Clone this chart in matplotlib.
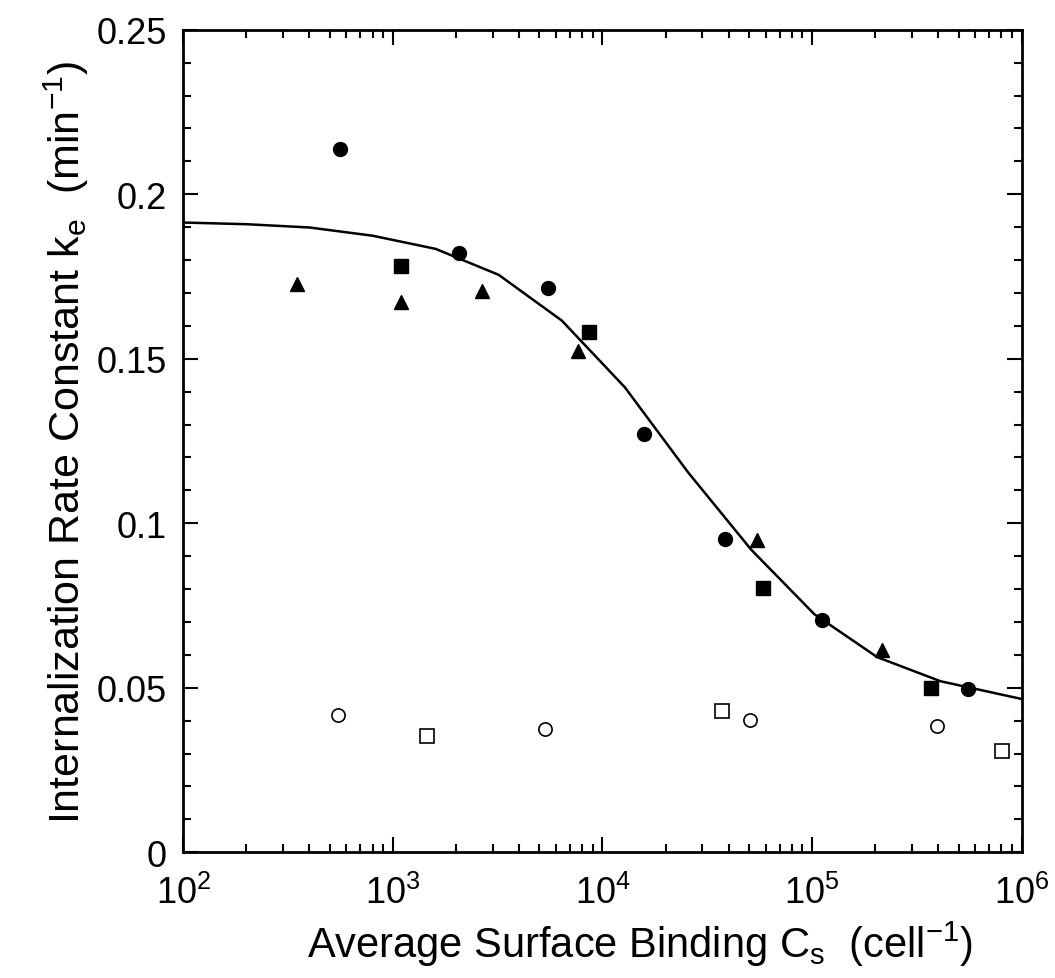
import matplotlib
matplotlib.use("Agg")
import matplotlib.pyplot as plt
from matplotlib.ticker import LogLocator, MultipleLocator, FixedLocator, NullFormatter
import numpy as np

plt.rcParams['font.family'] = ['Liberation Sans', 'DejaVu Sans']
plt.rcParams['mathtext.fontset'] = 'custom'
plt.rcParams['mathtext.rm'] = 'Liberation Sans'
plt.rcParams['mathtext.it'] = 'Liberation Sans'
plt.rcParams['mathtext.default'] = 'regular'

# Filled circles
fc_x = [559, 2067, 5477, 15780, 38410, 111100, 552600]
fc_y = [0.2138, 0.1821, 0.1715, 0.1271, 0.0952, 0.0707, 0.0496]
# Filled squares
fs_x = [1093, 8620, 58480, 369000]
fs_y = [0.1781, 0.1582, 0.0802, 0.0498]
# Filled triangles
ft_x = [348, 1093, 2653, 7614, 54750, 214800]
ft_y = [0.1728, 0.1672, 0.1707, 0.1523, 0.0949, 0.0616]
# Open circles
oc_x = [549, 5318, 50540, 393000]
oc_y = [0.0418, 0.0374, 0.0402, 0.0385]
# Open squares
os_x = [1450, 37040, 803000]
os_y = [0.0354, 0.0430, 0.0309]
# Fitted curve
fit_x = [100, 200, 400, 800, 1600, 3200, 6400, 12800, 25600, 51200, 102400, 204800, 409600, 819200, 1000000]
fit_y = [0.1914, 0.1909, 0.1899, 0.1874, 0.1834, 0.1755, 0.1616, 0.1413, 0.1155, 0.0920, 0.0724, 0.0593, 0.0520, 0.0478, 0.0466]

fig = plt.figure(figsize=(10.55, 9.79), dpi=100)
ax = fig.add_axes([0.1737, 0.1284, 0.9684 - 0.1737, 0.9686 - 0.1284])

ax.plot(fit_x, fit_y, color='black', lw=1.8, zorder=2)
ax.plot(fc_x, fc_y, 'o', color='black', ms=10, zorder=3)
ax.plot(fs_x, fs_y, 's', color='black', ms=9.5, zorder=3)
ax.plot(ft_x, ft_y, '^', color='black', ms=10.5, zorder=3)
ax.plot(oc_x, oc_y, 'o', mfc='white', mec='black', mew=1.2, ms=9.5, zorder=3)
ax.plot(os_x, os_y, 's', mfc='white', mec='black', mew=1.2, ms=9.5, zorder=3)

ax.set_xscale('log')
ax.set_xlim(1e2, 1e6)
ax.set_ylim(0, 0.25)
ax.xaxis.set_major_locator(LogLocator(base=10, numticks=10))
ax.xaxis.set_minor_locator(LogLocator(base=10, subs=np.arange(2, 10), numticks=20))
ax.xaxis.set_minor_formatter(NullFormatter())
ax.yaxis.set_major_locator(FixedLocator([0, 0.05, 0.1, 0.15, 0.2, 0.25]))
ax.yaxis.set_minor_locator(MultipleLocator(0.01))
ax.set_yticklabels(['0', '0.05', '0.1', '0.15', '0.2', '0.25'])

ax.tick_params(which='both', direction='in', top=True, right=True, width=1.5, labelsize=26)
ax.tick_params(which='major', length=10.8)
ax.tick_params(which='minor', length=5.8)
ax.tick_params(axis='y', which='major', pad=12)
ax.tick_params(axis='x', which='major', pad=16)
for s in ax.spines.values():
    s.set_linewidth(2)

ax.set_xlabel('Average Surface Binding C$_s$  (cell$^{-1}$)', fontsize=30, labelpad=6)
ax.xaxis.label.set_x(0.545)
ax.set_ylabel('Internalization Rate Constant k$_e$  (min$^{-1}$)', fontsize=31, labelpad=4,
              family=['Liberation Sans Narrow', 'Liberation Sans'])

fig.savefig('out.png', dpi=100)
